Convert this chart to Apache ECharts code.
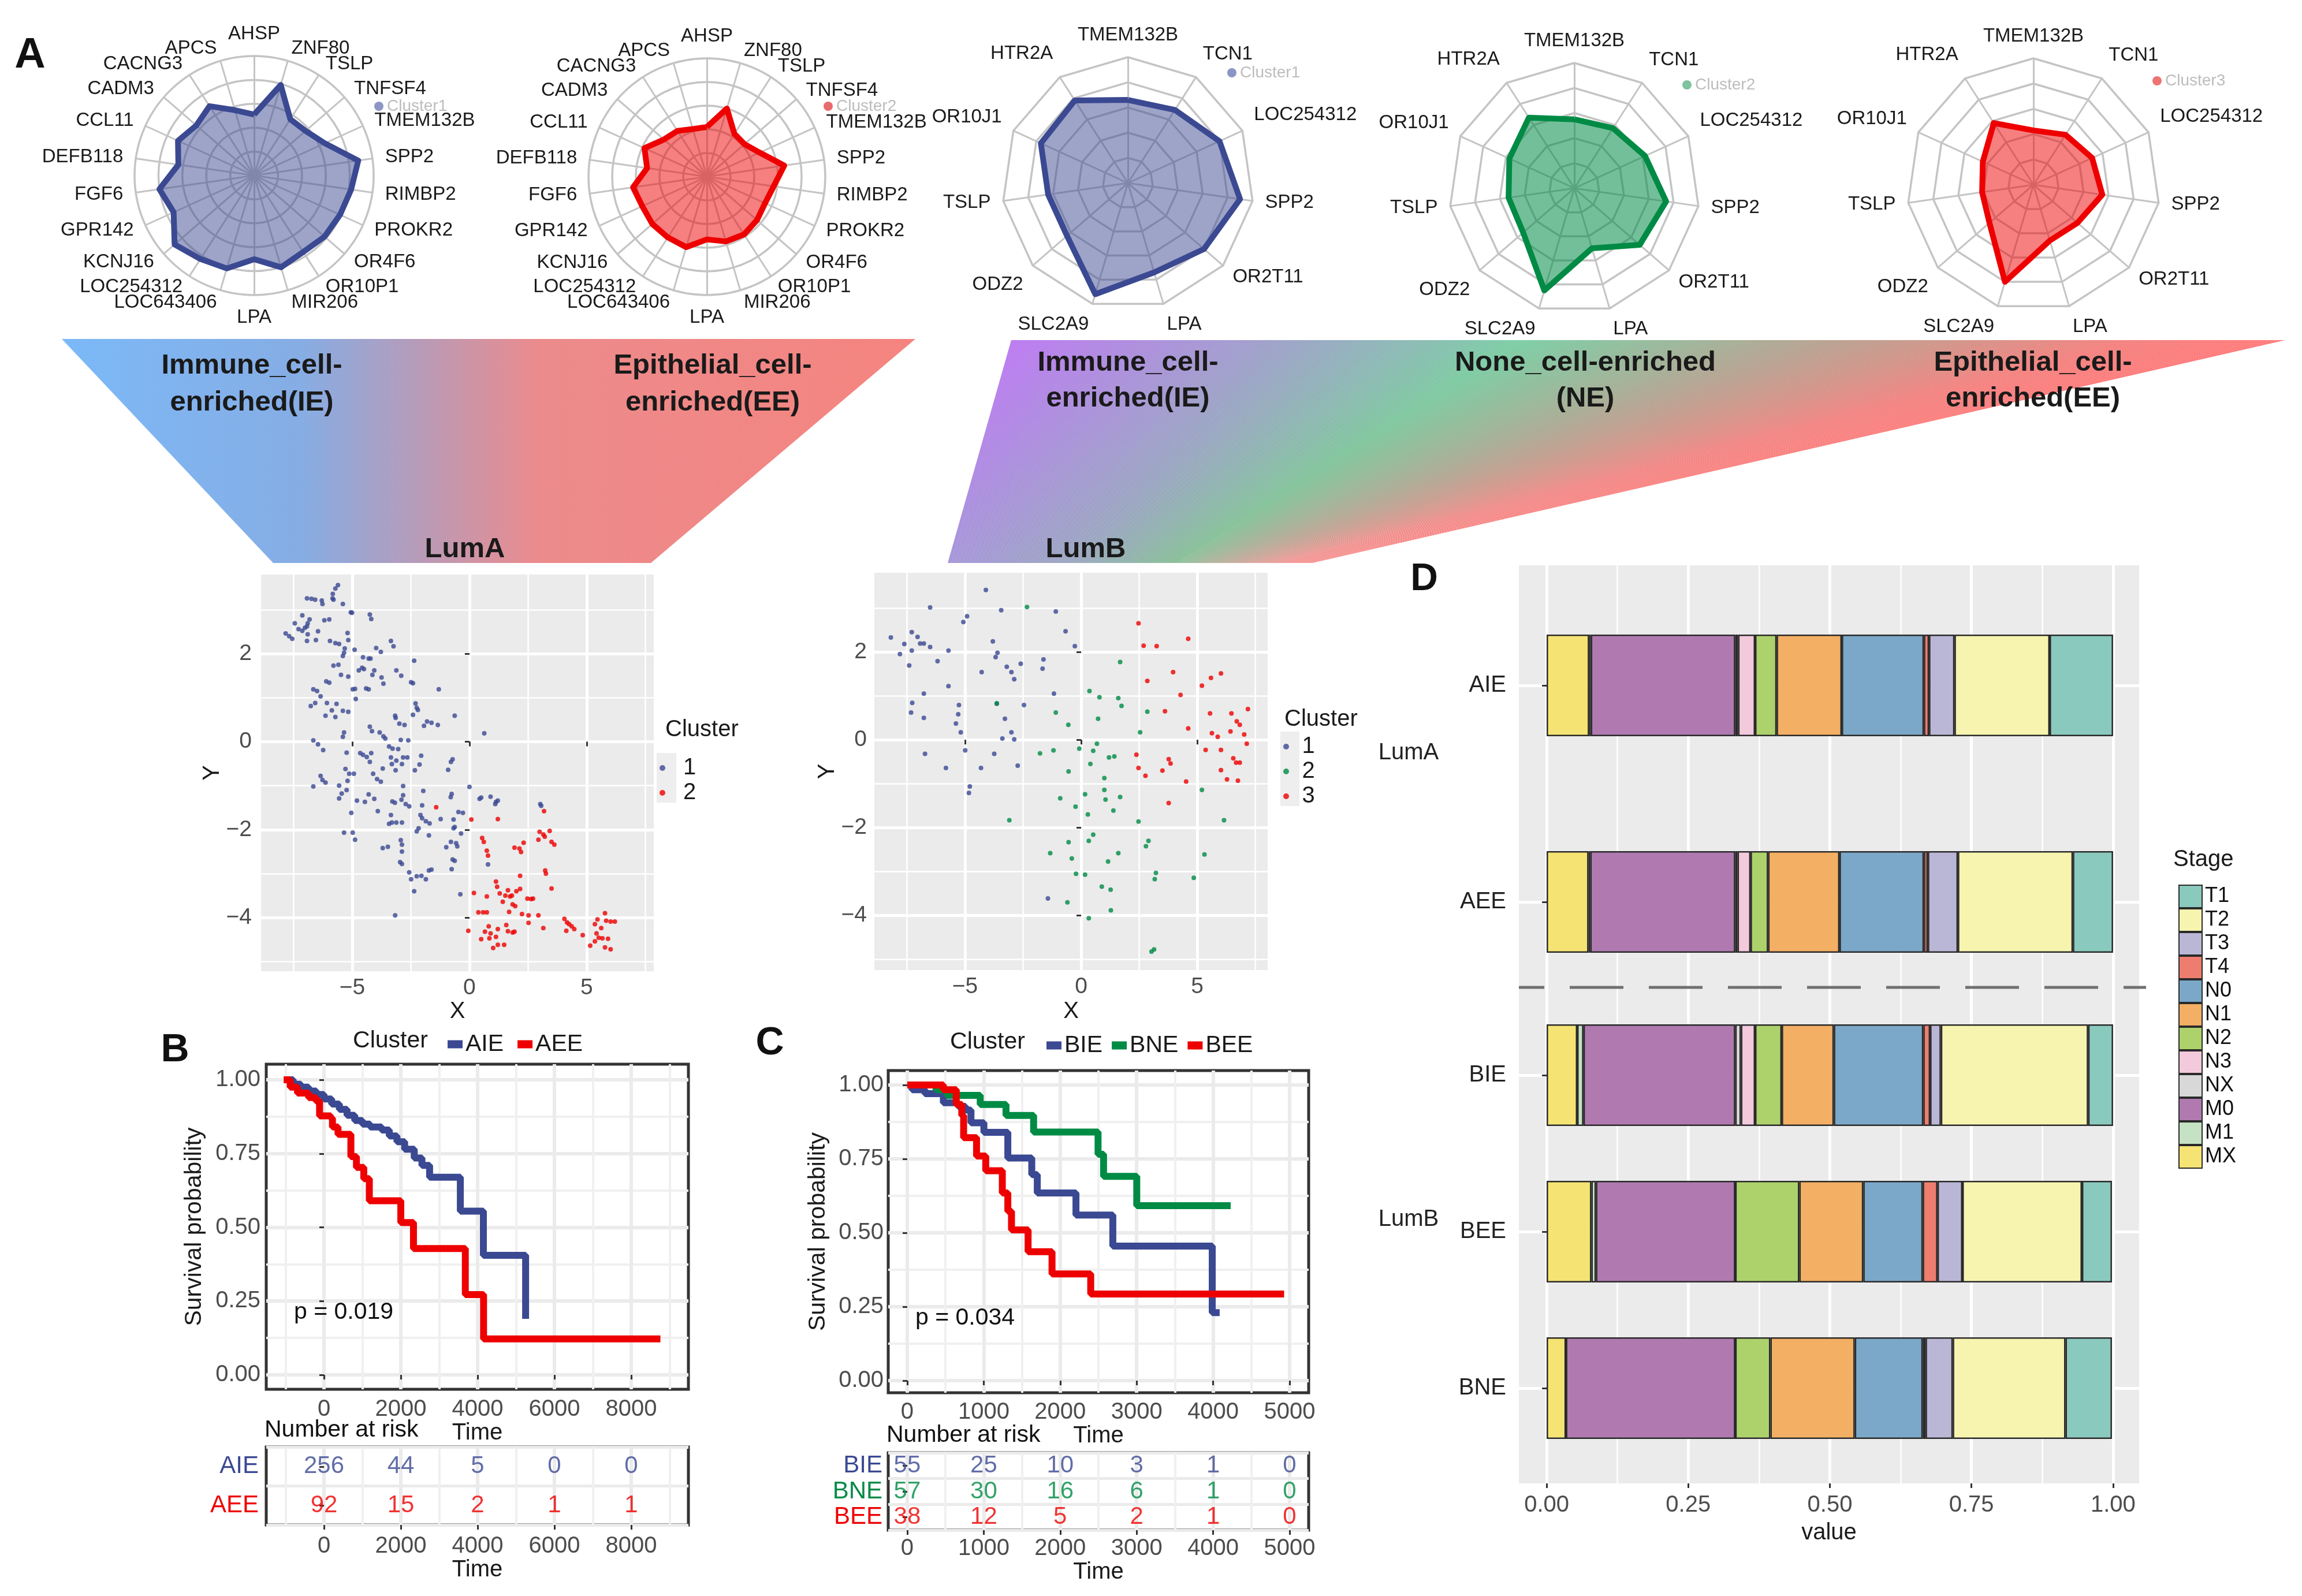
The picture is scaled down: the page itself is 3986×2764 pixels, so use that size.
<!DOCTYPE html>
<html>
<head>
<meta charset="utf-8">
<script src="https://cdn.jsdelivr.net/npm/echarts@6.0.0/dist/echarts.min.js"></script>
<style>
html,body{margin:0;padding:0;background:#ffffff;}
#chart{width:3986px;height:2764px;}
</style>
</head>
<body>
<div id="chart"></div>
<script>
const FONT = '"Liberation Sans", Arial, Helvetica, sans-serif';
const BLUE = '#3B4992', RED = '#EE0000', GREEN = '#008B45';

// ---------- Panel A: radar data ----------
const genesLumA = ['AHSP','APCS','CACNG3','CADM3','CCL11','DEFB118','FGF6','GPR142','KCNJ16','LOC254312','LOC643406','LPA','MIR206','OR10P1','OR4F6','PROKR2','RIMBP2','SPP2','TMEM132B','TNFSF4','TSLP','ZNF80'];
const radarLumA_C1 = [0.51,0.57,0.69,0.64,0.70,0.64,0.80,0.74,0.88,0.83,0.81,0.70,0.80,0.76,0.78,0.79,0.82,0.88,0.65,0.57,0.56,0.79];
const radarLumA_C2 = [0.42,0.42,0.46,0.48,0.58,0.51,0.63,0.60,0.61,0.61,0.62,0.53,0.57,0.58,0.56,0.54,0.57,0.66,0.49,0.42,0.43,0.60];
const genesLumB = ['TMEM132B','HTR2A','OR10J1','TSLP','ODZ2','SLC2A9','LPA','OR2T11','SPP2','LOC254312','TCN1'];
const radarLumB_C1 = [0.66,0.78,0.76,0.64,0.64,0.92,0.74,0.80,0.90,0.80,0.69];
const radarLumB_C2 = [0.55,0.67,0.57,0.53,0.54,0.85,0.50,0.69,0.74,0.62,0.57];
const radarLumB_C3 = [0.43,0.58,0.44,0.41,0.46,0.80,0.46,0.46,0.55,0.51,0.47];

// ---------- Scatter data ----------
const lumA_c1 = [[-5.61,3.56],[-5.72,3.48],[-5.83,3.36],[-5.80,3.23],[-5.84,3.26],[-6.93,3.26],[-6.74,3.25],[-6.58,3.23],[-6.30,3.21],[-6.27,3.13],[-5.40,3.13],[-5.01,2.93],[-5.06,2.94],[-4.25,2.89],[-4.19,2.79],[-7.13,2.87],[-6.82,2.78],[-6.90,2.69],[-7.45,2.69],[-6.19,2.76],[-5.98,2.78],[-7.84,2.46],[-7.69,2.40],[-7.56,2.34],[-7.29,2.56],[-7.13,2.52],[-7.02,2.59],[-6.93,2.62],[-6.90,2.44],[-6.46,2.51],[-5.20,2.47],[-5.17,2.31],[-6.93,2.29],[-6.55,2.31],[-5.95,2.29],[-5.72,2.24],[-5.56,2.22],[-5.32,2.12],[-5.40,1.95],[-5.35,2.02],[-4.90,2.09],[-3.98,2.13],[-3.78,2.04],[-3.35,2.29],[-3.24,2.17],[-4.54,1.92],[-4.30,1.89],[-4.22,1.89],[-4.58,1.68],[-4.72,1.62],[-4.50,1.65],[-4.06,1.62],[-4.14,1.52],[-5.59,1.75],[-5.80,1.73],[-5.48,1.52],[-5.17,1.48],[-3.75,1.46],[-3.67,1.32],[-3.12,1.62],[-2.91,1.50],[-2.49,1.35],[-2.41,1.33],[-2.36,1.84],[-1.31,1.19],[-6.11,1.37],[-5.98,1.34],[-6.66,1.19],[-6.50,1.15],[-6.35,1.03],[-4.88,1.20],[-4.98,1.19],[-4.41,1.21],[-4.30,1.19],[-4.85,0.97],[-6.77,0.81],[-6.58,0.88],[-6.08,0.88],[-5.87,0.71],[-5.67,0.86],[-5.40,0.70],[-5.17,0.68],[-6.14,0.59],[-5.72,0.56],[-2.30,0.87],[-2.25,0.77],[-2.20,0.72],[-2.41,0.61],[-0.63,0.59],[-3.17,0.59],[-3.15,0.54],[-2.99,0.41],[-2.77,0.38],[-1.94,0.36],[-1.81,0.46],[-1.62,0.43],[-1.35,0.38],[-5.35,0.21],[-5.40,0.11],[-4.25,0.34],[-4.16,0.24],[-3.83,0.21],[-3.67,0.12],[-3.59,0.07],[-2.93,0.04],[-2.61,0.03],[0.63,0.19],[-6.66,0.03],[-6.46,-0.06],[-6.24,-0.19],[-5.24,-0.25],[-4.66,-0.26],[-4.54,-0.30],[-4.38,-0.35],[-4.19,-0.26],[-4.25,-0.46],[-3.43,-0.11],[-3.28,-0.16],[-3.04,-0.17],[-2.83,-0.36],[-2.65,-0.36],[-3.35,-0.36],[-3.12,-0.43],[-3.31,-0.51],[-2.88,-0.51],[-3.70,-0.61],[-3.15,-0.65],[-2.06,-0.32],[-2.13,-0.52],[-2.33,-0.65],[-0.91,-0.64],[-0.72,-0.40],[-0.79,-0.46],[-5.29,-0.62],[-5.13,-0.73],[-4.93,-0.73],[-6.35,-0.78],[-6.27,-0.87],[-6.14,-0.93],[-4.11,-0.73],[-3.94,-0.85],[-3.78,-0.91],[-6.66,-1.02],[-5.56,-1.00],[-5.20,-0.89],[-5.24,-1.10],[-5.45,-1.18],[-5.56,-1.29],[-2.83,-1.01],[-1.97,-1.12],[-0.76,-1.19],[-0.80,-1.26],[0.00,-1.03],[-4.80,-1.34],[-4.30,-1.20],[-4.06,-1.30],[-4.46,-1.37],[-3.29,-1.36],[-3.18,-1.39],[-2.83,-1.22],[-2.90,-1.32],[-2.72,-1.42],[-2.57,-1.47],[-2.02,-1.45],[-3.91,-1.58],[-3.35,-1.67],[-3.31,-1.84],[-3.12,-1.84],[-2.88,-1.84],[-3.43,-1.87],[-2.09,-1.67],[-2.02,-1.74],[-1.86,-1.81],[-1.70,-1.86],[-1.23,-1.76],[-0.68,-1.77],[-0.63,-1.94],[-0.47,-1.60],[-0.28,-1.62],[0.43,-1.30],[0.50,-1.27],[0.90,-1.25],[1.13,-1.37],[1.10,-1.42],[1.21,-1.34],[0.79,-2.79],[-5.04,-1.62],[-5.35,-2.07],[-4.98,-2.07],[-4.88,-2.23],[-2.17,-1.97],[-2.25,-2.04],[-1.73,-2.13],[-0.68,-1.97],[-0.36,-2.09],[-0.79,-2.28],[-0.57,-2.31],[-0.99,-2.40],[-0.52,-2.38],[-3.70,-2.42],[-3.48,-2.39],[-2.93,-2.24],[-2.88,-2.34],[-2.88,-2.50],[-2.96,-2.74],[-2.88,-2.78],[-0.72,-2.68],[-0.63,-2.71],[-0.76,-2.90],[-2.57,-2.97],[-2.49,-3.13],[-2.25,-3.06],[-2.05,-3.05],[-1.86,-3.13],[-1.73,-2.93],[-1.62,-2.91],[-2.36,-3.40],[-0.39,-3.47],[-3.17,-3.95],[3.02,-1.42],[3.06,-1.46]];
const lumA_c2 = [[-1.42,-1.49],[0.08,-1.77],[1.21,-1.76],[3.18,-1.58],[0.54,-2.19],[0.61,-2.28],[0.74,-2.48],[0.79,-2.59],[2.99,-2.05],[3.15,-2.11],[3.42,-2.03],[2.94,-2.23],[3.21,-2.16],[3.50,-2.28],[3.62,-2.34],[1.92,-2.41],[2.13,-2.43],[2.20,-2.51],[2.31,-2.30],[3.23,-2.93],[3.26,-3.00],[2.16,-3.05],[3.50,-3.34],[1.13,-3.18],[1.18,-3.30],[1.29,-3.45],[1.64,-3.38],[1.73,-3.52],[1.53,-3.50],[1.81,-3.50],[2.00,-3.40],[2.16,-3.35],[0.19,-3.44],[0.74,-3.52],[1.42,-3.64],[1.84,-3.70],[1.95,-3.74],[1.69,-3.87],[2.47,-3.57],[2.63,-3.58],[2.71,-3.57],[2.24,-3.92],[2.52,-3.95],[2.94,-3.95],[2.52,-4.12],[0.38,-3.88],[0.58,-3.88],[0.74,-3.88],[3.15,-4.24],[-0.05,-4.30],[0.66,-4.32],[0.82,-4.20],[0.90,-4.36],[0.85,-4.47],[1.21,-4.26],[0.50,-4.49],[1.13,-4.44],[1.01,-4.69],[1.21,-4.62],[1.48,-4.62],[1.57,-4.17],[1.64,-4.31],[1.84,-4.34],[1.92,-4.32],[4.05,-4.03],[4.16,-4.11],[4.25,-4.15],[4.36,-4.20],[4.47,-4.26],[4.13,-4.30],[4.83,-4.40],[5.15,-4.64],[5.35,-4.54],[5.51,-4.46],[5.67,-4.47],[5.42,-4.36],[5.62,-4.24],[5.83,-4.07],[5.46,-4.04],[5.35,-4.15],[5.78,-3.90],[6.02,-4.09],[6.20,-4.09],[5.91,-4.48],[5.78,-4.68],[6.02,-4.72]];
const lumB_c1 = [[-4.10,3.41],[-6.50,3.01],[-3.44,2.95],[-4.91,2.81],[-5.07,2.68],[-1.09,2.92],[-0.67,2.47],[-0.27,2.13],[-8.19,2.33],[-7.61,2.18],[-7.29,2.45],[-7.04,2.34],[-6.93,2.19],[-6.77,2.19],[-6.50,2.11],[-7.80,1.95],[-7.29,2.03],[-5.71,2.03],[-3.80,2.24],[-3.60,1.98],[-3.68,1.88],[-7.40,1.69],[-6.18,1.79],[-4.28,1.54],[-3.20,1.66],[-3.00,1.54],[-2.88,1.38],[-2.60,1.73],[-1.62,1.83],[-1.66,1.62],[-5.71,1.22],[-6.77,1.05],[-1.17,1.05],[-7.27,0.84],[-7.32,0.62],[-5.26,0.79],[-5.29,0.58],[-6.77,0.50],[-5.39,0.37],[-5.18,0.17],[-3.63,0.82],[-3.28,0.48],[-2.46,0.79],[-3.00,0.17],[-3.39,0.03],[-2.88,0.01],[-6.72,-0.32],[-5.82,-0.64],[-4.99,-0.24],[-3.74,-0.32],[-4.31,-0.64],[-2.73,-0.59],[-4.79,-1.06],[-4.83,-1.21],[-1.43,-3.61]];
const lumB_c2 = [[-2.33,3.02],[1.68,1.77],[0.36,1.11],[0.79,0.97],[1.60,0.95],[1.74,0.77],[-3.63,0.83],[-1.09,0.62],[-0.55,0.34],[0.73,0.48],[2.54,0.17],[2.85,0.64],[0.68,-0.09],[-1.77,-0.31],[-1.19,-0.24],[-0.08,-0.20],[0.52,-0.25],[1.20,-0.40],[1.43,-0.38],[0.40,-0.55],[-0.54,-0.72],[1.00,-0.87],[1.00,-1.14],[-0.90,-1.33],[0.17,-1.24],[1.05,-1.36],[1.68,-1.30],[-0.24,-1.52],[0.29,-1.70],[1.39,-1.61],[-3.09,-1.83],[2.47,-1.86],[5.20,-1.14],[6.15,-1.83],[0.52,-2.16],[0.33,-2.30],[-0.54,-2.33],[2.90,-2.30],[2.79,-2.42],[-1.33,-2.58],[-0.40,-2.70],[1.60,-2.58],[1.16,-2.77],[5.31,-2.61],[-0.22,-3.05],[0.17,-3.07],[3.22,-3.03],[3.17,-3.17],[4.85,-3.14],[0.89,-3.34],[1.27,-3.41],[-0.59,-3.70],[1.28,-3.88],[0.33,-4.06],[3.14,-4.77],[3.03,-4.82]];
const lumB_c3 = [[2.47,2.65],[4.61,2.30],[2.69,2.14],[3.25,2.13],[3.96,1.54],[2.85,1.34],[6.02,1.51],[5.59,1.41],[5.20,1.23],[4.28,1.02],[3.61,0.65],[7.18,0.70],[5.55,0.60],[6.47,0.60],[6.70,0.42],[6.83,0.34],[4.61,0.26],[5.63,0.15],[6.43,0.19],[5.88,0.07],[7.02,0.12],[7.13,-0.09],[2.38,-0.34],[5.36,-0.23],[6.02,-0.23],[3.77,-0.44],[3.85,-0.54],[2.47,-0.64],[2.77,-0.82],[3.50,-0.70],[6.55,-0.42],[6.67,-0.52],[6.83,-0.52],[6.02,-0.69],[6.28,-0.90],[6.75,-0.93],[4.52,-0.95],[3.77,-1.44]];

// ---------- Panel B: KM ----------
const kmAIE_time = [-1000,-800,-600,-400,-200,0,200,400,600,800,1000,1200,1500,1700,1900,2100,2350,2550,2750,3550,4150,5250];
const kmAIE_surv = [1.0,0.985,0.975,0.962,0.95,0.935,0.918,0.90,0.88,0.862,0.85,0.84,0.83,0.81,0.79,0.765,0.735,0.71,0.67,0.555,0.405,0.19];
const kmAEE_time = [-1050,-880,-690,-400,-210,-115,175,220,365,700,845,1036,1180,2000,2330,3680,4155,8760];
const kmAEE_surv = [1.0,0.975,0.955,0.94,0.928,0.878,0.87,0.84,0.815,0.74,0.703,0.665,0.59,0.516,0.428,0.272,0.122,0.122];
const riskTimeB = [0,2000,4000,6000,8000];
const riskAIE = [256,44,5,0,0];
const riskAEE = [92,15,2,1,1];

// ---------- Panel C: KM ----------
const kmBIE_time = [0,63,231,472,665,761,833,1002,1315,1628,1700,2206,2688,3988,4085];
const kmBIE_surv = [1.0,0.984,0.971,0.94,0.928,0.915,0.872,0.84,0.753,0.697,0.635,0.56,0.455,0.23,0.23];
const kmBNE_time = [0,376,520,954,1291,1652,2495,2567,3001,4229];
const kmBNE_surv = [1.0,0.984,0.965,0.934,0.897,0.841,0.766,0.691,0.592,0.592];
const kmBEE_time = [0,472,641,713,737,906,1026,1243,1315,1363,1580,1893,2399,4928];
const kmBEE_surv = [1.0,0.984,0.934,0.897,0.822,0.76,0.71,0.635,0.573,0.51,0.436,0.361,0.293,0.293];
const riskTimeC = [0,1000,2000,3000,4000,5000];
const riskBIE = [55,25,10,3,1,0];
const riskBNE = [57,30,16,6,1,0];
const riskBEE = [38,12,5,2,1,0];

// ---------- Panel D ----------
const stageOrder = ['MX','M1','M0','NX','N3','N2','N1','N0','T4','T3','T2','T1'];
const stageLegend = ['T1','T2','T3','T4','N0','N1','N2','N3','NX','M0','M1','MX'];
const rowsLumA = ['AIE','AEE'];
const rowsLumB = ['BIE','BEE','BNE'];
const propAIE = [0.075,0.003,0.255,0.005,0.030,0.038,0.115,0.145,0.009,0.045,0.168,0.112];
const propAEE = [0.074,0.003,0.256,0.004,0.023,0.031,0.126,0.149,0.007,0.053,0.203,0.071];
const propBIE = [0.054,0.011,0.268,0.010,0.025,0.047,0.092,0.158,0.012,0.019,0.260,0.044];
const propBEE = [0.079,0.008,0.246,0.000,0.000,0.113,0.113,0.105,0.026,0.044,0.211,0.053];
const propBNE = [0.034,0.000,0.299,0.000,0.000,0.062,0.149,0.120,0.005,0.048,0.199,0.082];
const stageColors = {T1:'#8ACABE',T2:'#F7F4B0',T3:'#BAB7D6',T4:'#EF7D6F',N0:'#7BA8C8',N1:'#F3AF64',N2:'#ADD26C',N3:'#F3C9DC',NX:'#D8D8D8',M0:'#B07AB0',M1:'#C6E2C4',MX:'#F5E474'};

// ---------- helpers ----------
function onStep(v, step){ return Math.abs(v/step - Math.round(v/step)) < 1e-6; }
function multiples(min, max, step){ const out=[]; for(let k=Math.ceil(min/step-1e-9); k*step<=max+1e-9; k++) out.push(+(k*step).toFixed(6)); return out; }
function minusFmt(v){ return v < 0 ? '\u2212' + Math.abs(v) : String(v); }
function valAxis(gi, min, max, step, o){
  o = o || {};
  const fmt = o.fmt || minusFmt;
  const cv = multiples(min, max, step);
  const ax = {
    type:'value', gridIndex:gi, min:min, max:max, minInterval:step, maxInterval:step,
    splitNumber: Math.max(1, Math.round((max-min)/step)),
    axisLine:{show:false},
    axisTick:{show:true, length:8, customValues:cv, lineStyle:{color:'#333333', width:3}},
    axisLabel:{color:'#4D4D4D', fontSize:o.fs||39, fontFamily:FONT, margin:(o.margin!=null?o.margin:12), customValues:cv,
      formatter: function(v){ return onStep(v, step) ? fmt(v) : ''; }},
    splitLine:{show:true, lineStyle:{color:o.grid, width:o.gw||5}},
    minorTick:{show:false, splitNumber:2},
    minorSplitLine:{show:true, lineStyle:{color:o.mgrid||o.grid, width:o.mgw||2.5}}
  };
  if (o.name){ ax.name=o.name; ax.nameLocation='middle'; ax.nameGap=o.nameGap; ax.nameTextStyle={color:'#1a1a1a', fontSize:o.nfs||40, fontFamily:FONT}; }
  return ax;
}
function pairs(ts, ss){ return ts.map(function(t,i){ return [t, ss[i]]; }); }
// vertical nudges (px) for the 11-axis radar labels, as placed in the figure
const nudgeLumB = {TCN1:-21, LOC254312:-18, OR2T11:6, LPA:15, SLC2A9:15, ODZ2:19, OR10J1:-14, HTR2A:-22};
function radarCfg(center, radius, names, shape, gap, nudge){
  const axisName = {color:'#1a1a1a', fontSize:33, fontFamily:FONT};
  if (nudge){
    const rich = {};
    Object.keys(nudge).forEach(function(k){
      const d = nudge[k];
      rich['k'+k] = {fontSize:33, color:'#1a1a1a', fontFamily:FONT, padding: d<0 ? [0,0,-2*d,0] : [2*d,0,0,0]};
    });
    axisName.rich = rich;
    axisName.formatter = function(n){ return nudge[n] != null ? '{k'+n+'|'+n+'}' : n; };
  }
  return {center:center, radius:radius, shape:shape, splitNumber:5, startAngle:90,
    indicator: names.map(function(n){ return {name:n, min:0, max:1}; }),
    nameGap: gap,
    axisName: axisName,
    axisLine:{lineStyle:{color:'#C4C4C4', width:3}},
    splitLine:{lineStyle:{color:'#C4C4C4', width:3.5}},
    splitArea:{show:false}, axisTick:{show:false}, axisLabel:{show:false}};
}
function radarSeries(idx, name, vals, color, fillOpacity){
  return {type:'radar', radarIndex:idx, name:name, symbol:'none', silent:true, z:3,
    lineStyle:{color:color, width:10}, areaStyle:{color:color, opacity:fillOpacity},
    data:[{name:name, value:vals}]};
}
function hex2rgb(h){ return [parseInt(h.substr(1,2),16), parseInt(h.substr(3,2),16), parseInt(h.substr(5,2),16)]; }
function ramp(stops, cols, t){
  for (let i=0;i<stops.length-1;i++){
    if (t<=stops[i+1]){
      const f=(t-stops[i])/(stops[i+1]-stops[i]); const a=hex2rgb(cols[i]), b=hex2rgb(cols[i+1]);
      return 'rgb('+Math.round(a[0]+(b[0]-a[0])*f)+','+Math.round(a[1]+(b[1]-a[1])*f)+','+Math.round(a[2]+(b[2]-a[2])*f)+')';
    }
  }
  return cols[cols.length-1];
}
function lerpPL(xs, ys, t){ for(let i=0;i<xs.length-1;i++){ if(t<=xs[i+1]){ const f=(t-xs[i])/(xs[i+1]-xs[i]); return ys[i]+(ys[i+1]-ys[i])*f; } } return ys[ys.length-1]; }
function TXT(text, x, y, o){
  o = o || {};
  return {type:'text', x:x, y:y, z:o.z||50, silent:true,
    style:{text:text, fill:o.color||'#1a1a1a', fontSize:o.fs||40, fontWeight:o.bold?'bold':'normal', fontFamily:FONT,
      align:o.align||'center', verticalAlign:'middle', lineHeight:o.lh||undefined}};
}

// ---------- graphics (decorations & texts) ----------
const graphics = [];
graphics.push({type:'polygon', z:1, silent:true, shape:{points:[[107,587],[1585,587],[1127,975],[473,975]]},
  style:{fill:new echarts.graphic.LinearGradient(107,0,1585,0,[
    {offset:0,color:'#7BB9F8'},{offset:0.28,color:'#86ADE4'},{offset:0.42,color:'#B89BB8'},{offset:0.56,color:'#EC8B8C'},{offset:1,color:'#F5847F'}], true)}});
(function(){
  const N=160, tL=1751, tR=3957, bL=1641, bR=2272, yT=589, yB=975;
  const sKn=[0,0.40,0.88,1], sVal=[0,0.625,0.91,1];
  const topS=[0,0.2,0.40,0.62,0.88,1], topC=['#BE7DF2','#A2A2CC','#7FCFA7','#B4A795','#F4827F','#FF7B7B'];
  const botS=[0,0.35,0.625,0.78,0.91,1], botC=['#A898DA','#9CA8C0','#88BF97','#BCA08E','#EE8886','#F5827F'];
  for (let i=0;i<N;i++){
    const t0=i/N, t1=(i+1)/N, tm=(t0+t1)/2;
    const s0=lerpPL(sKn,sVal,t0), s1=lerpPL(sKn,sVal,t1), sm=lerpPL(sKn,sVal,tm);
    const xt0=tL+(tR-tL)*t0, xt1=tL+(tR-tL)*t1, xb0=bL+(bR-bL)*s0, xb1=bL+(bR-bL)*s1;
    const ov = (i===N-1)?0:0.8;
    graphics.push({type:'polygon', z:1, silent:true, shape:{points:[[xt0,yT],[xt1+ov,yT],[xb1+ov*0.3,yB],[xb0,yB]]},
      style:{fill:new echarts.graphic.LinearGradient(0,0,0,1,[{offset:0,color:ramp(topS,topC,tm)},{offset:1,color:ramp(botS,botC,sm)}])}});
  }
})();
graphics.push(TXT('A', 52, 97, {fs:74, bold:true, color:'#111'}));
graphics.push(TXT('B', 303, 1819, {fs:68, bold:true, color:'#111'}));
graphics.push(TXT('C', 1333, 1807, {fs:68, bold:true, color:'#111'}));
graphics.push(TXT('D', 2466, 1004, {fs:66, bold:true, color:'#111'}));
graphics.push(TXT('Immune_cell-\nenriched(IE)', 436, 665, {fs:49, bold:true, lh:64}));
graphics.push(TXT('Epithelial_cell-\nenriched(EE)', 1234, 665, {fs:49, bold:true, lh:64}));
graphics.push(TXT('Immune_cell-\nenriched(IE)', 1953, 659, {fs:49, bold:true, lh:62}));
graphics.push(TXT('None_cell-enriched\n(NE)', 2745, 659, {fs:49, bold:true, lh:62}));
graphics.push(TXT('Epithelial_cell-\nenriched(EE)', 3520, 659, {fs:49, bold:true, lh:62}));
graphics.push(TXT('LumA', 805, 951, {fs:49, bold:true}));
graphics.push(TXT('LumB', 1880, 951, {fs:49, bold:true}));
// radar legends
[[656,184,'#8D95C6','Cluster1'],[1434,184,'#E96A6A','Cluster2'],[2133,126,'#8D95C6','Cluster1'],[2921,147,'#7DC39D','Cluster2'],[3735,140,'#EE7373','Cluster3']].forEach(function(r){
  graphics.push({type:'circle', z:40, silent:true, shape:{cx:r[0], cy:r[1], r:8}, style:{fill:r[2]}});
  graphics.push(TXT(r[3], r[0]+14, r[1], {fs:28, color:'#BDBDBD', align:'left'}));
});
// scatter legend titles and key backgrounds
graphics.push(TXT('Cluster', 1152, 1264, {fs:40, align:'left'}));
graphics.push({type:'rect', z:2, silent:true, shape:{x:1137, y:1304, width:34, height:86}, style:{fill:'#EEEEEE'}});
graphics.push(TXT('Cluster', 2224, 1246, {fs:40, align:'left'}));
graphics.push({type:'rect', z:2, silent:true, shape:{x:2217, y:1267, width:33, height:129}, style:{fill:'#EEEEEE'}});
// KM texts
graphics.push(TXT('Cluster', 676, 1803, {fs:41}));
graphics.push(TXT('Cluster', 1710, 1805, {fs:41}));
graphics.push(TXT('p = 0.019', 509, 2273, {fs:41, align:'left', color:'#111'}));
graphics.push(TXT('p = 0.034', 1585, 2283, {fs:41, align:'left', color:'#111'}));
graphics.push(TXT('Number at risk', 458, 2477, {fs:41, align:'left', color:'#111'}));
graphics.push(TXT('Number at risk', 1535, 2486, {fs:41, align:'left', color:'#111'}));
// Panel D texts
graphics.push(TXT('Stage', 3763, 1489, {fs:40, align:'left'}));
graphics.push(TXT('LumA', 2439, 1304, {fs:40, color:'#222'}));
graphics.push(TXT('LumB', 2439, 2112, {fs:40, color:'#222'}));
graphics.push({type:'line', z:30, silent:true, shape:{x1:2630, y1:1710, x2:3716, y2:1710}, style:{stroke:'#707070', lineWidth:5, lineDash:[93,44], lineDashOffset:49}});

// ---------- axes ----------
const xAxes = [], yAxes = [];
xAxes[0] = valAxis(0, -8.89, 7.86, 5, {grid:'#fff', margin:10, name:'X', nameGap:46});
yAxes[0] = valAxis(0, -5.22, 3.8, 2, {grid:'#fff', margin:16, name:'Y', nameGap:58});
xAxes[1] = valAxis(1, -8.9, 8.03, 5, {grid:'#fff', margin:10, name:'X', nameGap:52});
yAxes[1] = valAxis(1, -5.24, 3.8, 2, {grid:'#fff', margin:13, name:'Y', nameGap:52});
const intFmt = function(v){ return String(Math.round(v)); };
const f2 = function(v){ return v.toFixed(2); };
xAxes[2] = valAxis(2, -1504, 9489, 2000, {grid:'#EBEBEB', gw:6, mgrid:'#F0F0F0', mgw:4, fmt:intFmt, margin:15, name:'Time', nameGap:51, fs:40});
yAxes[2] = valAxis(2, -0.049, 1.053, 0.25, {grid:'#EBEBEB', gw:6, mgrid:'#F0F0F0', mgw:4, fmt:f2, margin:10, name:'Survival probability', nameGap:104, nfs:41, fs:40});
xAxes[3] = valAxis(3, -1504, 9489, 2000, {grid:'#EBEBEB', gw:6, mgrid:'#F0F0F0', mgw:4, fmt:intFmt, margin:17, name:'Time', nameGap:52, fs:40});
yAxes[3] = {type:'category', gridIndex:3, data:['AIE','AEE'], inverse:true,
  axisLine:{show:false}, axisTick:{show:true, alignWithLabel:true, interval:0, length:8, lineStyle:{color:'#333', width:3}},
  axisLabel:{fontSize:42, fontFamily:FONT, margin:13, interval:0, color:function(v){ return v==='AIE'?BLUE:RED; }},
  splitLine:{show:true, interval:0, lineStyle:{color:'#EBEBEB', width:5}}};
xAxes[4] = valAxis(4, -249, 5249, 1000, {grid:'#EBEBEB', gw:6, mgrid:'#F0F0F0', mgw:4, fmt:intFmt, margin:14, name:'Time', nameGap:54, fs:40});
yAxes[4] = valAxis(4, -0.041, 1.049, 0.25, {grid:'#EBEBEB', gw:6, mgrid:'#F0F0F0', mgw:4, fmt:f2, margin:8, name:'Survival probability', nameGap:101, nfs:41, fs:40});
xAxes[5] = valAxis(5, -249, 5249, 1000, {grid:'#EBEBEB', gw:6, mgrid:'#F0F0F0', mgw:4, fmt:intFmt, margin:12, name:'Time', nameGap:50, fs:40});
yAxes[5] = {type:'category', gridIndex:5, data:['BIE','BNE','BEE'], inverse:true,
  axisLine:{show:false}, axisTick:{show:true, alignWithLabel:true, interval:0, length:8, lineStyle:{color:'#333', width:3}},
  axisLabel:{fontSize:42, fontFamily:FONT, margin:10, interval:0, color:function(v){ return v==='BIE'?BLUE:(v==='BNE'?GREEN:RED); }},
  splitLine:{show:true, interval:0, lineStyle:{color:'#EBEBEB', width:5}}};
xAxes[6] = valAxis(6, -0.049, 1.046, 0.25, {grid:'#fff', gw:5, mgw:2.5, fmt:f2, margin:18, name:'value', nameGap:66, fs:40});
yAxes[6] = {type:'value', gridIndex:6, show:false, min:0, max:1};
xAxes[7] = {type:'value', gridIndex:7, show:false, min:-0.049, max:1.046};
xAxes[8] = {type:'value', gridIndex:8, show:false, min:-0.049, max:1.046};
function dCat(gi, rows){
  return {type:'category', gridIndex:gi, data:rows, inverse:true, boundaryGap:false,
    axisLine:{show:false}, axisTick:{show:true, interval:0, length:8, lineStyle:{color:'#333', width:3}},
    axisLabel:{fontSize:40, fontFamily:FONT, color:'#222', margin:22, interval:0},
    splitLine:{show:true, interval:0, lineStyle:{color:'#fff', width:5}}};
}
yAxes[7] = dCat(7, rowsLumA);
yAxes[8] = dCat(8, rowsLumB);

// ---------- series ----------
const series = [];
series.push(radarSeries(0, 'LumA-Cluster1', radarLumA_C1, BLUE, 0.5));
series.push(radarSeries(1, 'LumA-Cluster2', radarLumA_C2, RED, 0.5));
series.push(radarSeries(2, 'LumB-Cluster1', radarLumB_C1, BLUE, 0.5));
series.push(radarSeries(3, 'LumB-Cluster2', radarLumB_C2, GREEN, 0.55));
series.push(radarSeries(4, 'LumB-Cluster3', radarLumB_C3, RED, 0.5));
function sc(name, gi, data, color){
  return {type:'scatter', name:name, xAxisIndex:gi, yAxisIndex:gi, symbol:'circle', symbolSize:8, silent:true, z:3,
    itemStyle:{color:color}, data:data};
}
series.push(sc('a1', 0, lumA_c1, BLUE));
series.push(sc('a2', 0, lumA_c2, RED));
series.push(sc('b1', 1, lumB_c1, BLUE));
series.push(sc('b2', 1, lumB_c2, GREEN));
series.push(sc('b3', 1, lumB_c3, RED));
function km(name, gi, data, color){
  return {type:'line', name:name, xAxisIndex:gi, yAxisIndex:gi, step:'end', symbol:'none', silent:true, color:color, z:3,
    lineStyle:{color:color, width:12}, data:data};
}
series.push(km('AIE', 2, pairs(kmAIE_time, kmAIE_surv), BLUE));
series.push(km('AEE', 2, pairs(kmAEE_time, kmAEE_surv), RED));
series.push(km('BIE', 4, pairs(kmBIE_time, kmBIE_surv), BLUE));
series.push(km('BNE', 4, pairs(kmBNE_time, kmBNE_surv), GREEN));
series.push(km('BEE', 4, pairs(kmBEE_time, kmBEE_surv), RED));
function risk(gi, row, times, counts, color){
  return {type:'scatter', name:'risk-'+row, xAxisIndex:gi, yAxisIndex:gi, symbolSize:1, silent:true, z:5,
    itemStyle:{color:'rgba(0,0,0,0)'},
    label:{show:true, position:'inside', fontSize:42, fontFamily:FONT, color:color, formatter:function(p){ return String(p.data[2]); }},
    data: times.map(function(t,i){ return [t, row, counts[i]]; })};
}
series.push(risk(3, 'AIE', riskTimeB, riskAIE, BLUE));
series.push(risk(3, 'AEE', riskTimeB, riskAEE, RED));
series.push(risk(5, 'BIE', riskTimeC, riskBIE, BLUE));
series.push(risk(5, 'BNE', riskTimeC, riskBNE, GREEN));
series.push(risk(5, 'BEE', riskTimeC, riskBEE, RED));
stageOrder.forEach(function(st, k){
  const base = {type:'bar', name:st, barWidth:176, clip:false, silent:true, z:3,
    itemStyle:{color:stageColors[st], borderColor:'#2a2a2a', borderWidth:2.5}};
  series.push(Object.assign({}, base, {stack:'lumA', xAxisIndex:7, yAxisIndex:7, data:[propAIE[k], propAEE[k]]}));
  series.push(Object.assign({}, base, {stack:'lumB', xAxisIndex:8, yAxisIndex:8, data:[propBIE[k], propBEE[k], propBNE[k]]}));
});

const option = {
  animation:false,
  backgroundColor:'#ffffff',
  textStyle:{fontFamily:FONT},
  radar:[
    radarCfg([440,304], 207, genesLumA, 'circle', 22, null),
    radarCfg([1224,306], 205, genesLumA, 'circle', 22, null),
    radarCfg([1953,317], 218, genesLumB, 'polygon', 22, nudgeLumB),
    radarCfg([2726,326], 217, genesLumB, 'polygon', 22, nudgeLumB),
    radarCfg([3521,320], 219, genesLumB, 'polygon', 22, nudgeLumB)
  ],
  grid:[
    {left:452, top:995, width:680, height:687, show:true, backgroundColor:'#EBEBEB', borderWidth:0},
    {left:1514, top:992, width:681, height:688, show:true, backgroundColor:'#EBEBEB', borderWidth:0},
    {left:461, top:1843, width:731, height:563, show:true, backgroundColor:'#ffffff', borderColor:'#333333', borderWidth:5},
    {left:461, top:2506, width:731, height:135, show:true, backgroundColor:'#ffffff', borderColor:'#333333', borderWidth:5},
    {left:1538, top:1854, width:728, height:558, show:true, backgroundColor:'#ffffff', borderColor:'#333333', borderWidth:5},
    {left:1538, top:2516, width:728, height:134, show:true, backgroundColor:'#ffffff', borderColor:'#333333', borderWidth:5},
    {left:2630, top:979, width:1074, height:1590, show:true, backgroundColor:'#EBEBEB', borderWidth:0},
    {left:2630, top:1187, width:1074, height:375},
    {left:2630, top:1862, width:1074, height:542}
  ],
  xAxis:xAxes,
  yAxis:yAxes,
  legend:[
    {orient:'vertical', left:1137, top:1305, itemWidth:34, itemHeight:10, itemGap:3, icon:'circle', data:['a1','a2'],
      formatter:function(n){ return n.slice(1); }, textStyle:{fontSize:40, color:'#1a1a1a', fontFamily:FONT, padding:[0,0,0,14]}},
    {orient:'vertical', left:2217, top:1268, itemWidth:33, itemHeight:10, itemGap:3, icon:'circle', data:['b1','b2','b3'],
      formatter:function(n){ return n.slice(1); }, textStyle:{fontSize:40, color:'#1a1a1a', fontFamily:FONT, padding:[0,0,0,6]}},
    {orient:'horizontal', left:770, top:1783, itemWidth:26, itemHeight:14, itemGap:24, icon:'rect', data:['AIE','AEE'],
      textStyle:{fontSize:41, color:'#1a1a1a', fontFamily:FONT}},
    {orient:'horizontal', left:1807, top:1785, itemWidth:26, itemHeight:14, itemGap:16, icon:'rect', data:['BIE','BNE','BEE'],
      textStyle:{fontSize:41, color:'#1a1a1a', fontFamily:FONT}},
    {orient:'vertical', left:3767, top:1527, itemWidth:40, itemHeight:39, itemGap:0, icon:'rect', data:stageLegend,
      textStyle:{fontSize:36, lineHeight:39, color:'#111', fontFamily:FONT}}
  ],
  graphic:graphics,
  series:series
};
const chart = echarts.init(document.getElementById('chart'), null, {width:3986, height:2764, renderer:'canvas'});
chart.setOption(option);
</script>
</body>
</html>
